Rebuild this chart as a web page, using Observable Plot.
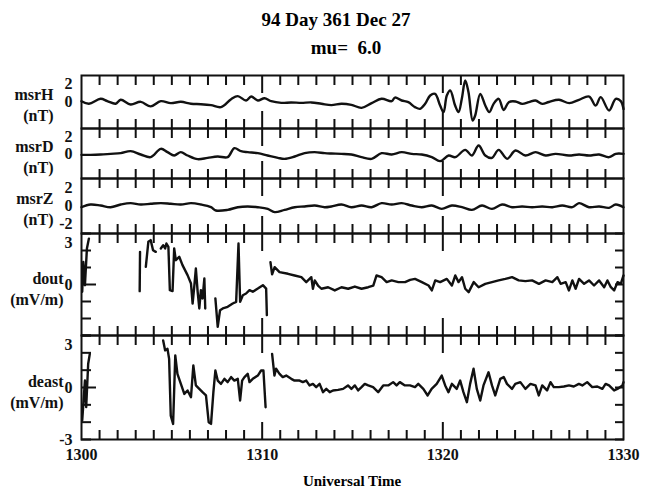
<!DOCTYPE html>
<html>
<head>
<meta charset="utf-8">
<script src="https://cdn.jsdelivr.net/npm/d3@7"></script>
<script src="https://cdn.jsdelivr.net/npm/@observablehq/plot@0.6"></script>
<style>
  html, body { margin: 0; padding: 0; background: #fff; }
  #wrap { position: relative; width: 656px; height: 494px; font-family: "Liberation Serif", "Times New Roman", serif; font-weight: bold; color: #000; overflow: hidden; }
  .txt { position: absolute; white-space: nowrap; line-height: 1; transform: translateX(-50%); }
  .panel { position: absolute; left: 0; }
</style>
</head>
<body>
<div id="wrap">
  <div class="txt" style="left:336px; top:10px; font-size:19px;">94 Day 361 Dec 27</div>
  <div class="txt" style="left:346px; top:38px; font-size:19px;">mu=&nbsp; 6.0</div>
  <div class="txt" style="left:352px; top:474px; font-size:15px;">Universal Time</div>
</div>
<script>
// ---------- axis ticks / labels ----------
const xTickValues = [0, 10, 20, 30];               // minutes after 13:00
const xTickLabels = ["1300", "1310", "1320", "1330"];
const majorMinutes = [10, 20];
const minorMinutes = d3.range(1, 30).filter(m => m % 10 !== 0);

const panelNames = ["msrH", "msrD", "msrZ", "dout", "deast"];
const panelUnits = ["(nT)", "(nT)", "(nT)", "(mV/m)", "(mV/m)"];

// ---------- msrH (nT) ----------
const hT = [0,0.41,1.06,1.43,1.89,2.17,2.72,3.28,3.83,4.39,4.94,5.5,6.06,6.61,7.17,7.72,8.28,8.65,9.11,9.39,9.76,10.13,10.5,11.06,11.6,12.17,12.72,13.28,13.83,14.39,14.94,15.5,16.06,16.61,17.17,17.35,17.72,18.09,18.46,18.74,19.02,19.3,19.57,19.85,20.04,20.22,20.41,20.68,20.87,21.05,21.24,21.42,21.65,21.79,22.07,22.35,22.57,22.81,23.09,23.37,23.65,24.02,24.39,24.76,25.13,25.5,25.87,26.43,27.0,27.54,28.1,28.46,28.74,29.2,29.57,29.85,30];
const hV = [0.09,-0.2,0.36,0.1,-0.2,0.25,-0.28,0.02,-0.5,0.1,-0.13,0.02,-0.2,-0.25,-0.36,-0.58,0.32,0.66,0.17,0.62,0.17,0.43,0.09,-0.1,-0.05,-0.1,-0.05,-0.2,-0.35,-0.2,-0.32,-0.66,-0.13,0.36,0.09,0.5,0.17,-0.02,-0.58,-0.77,-0.21,0.74,0.92,-0.4,-1.15,0.74,1.3,-0.4,-1.15,0.36,2.43,1.11,-2.1,-1.53,0.92,-0.4,-1.15,-0.21,0.36,-0.9,-0.02,0.06,-0.21,-0.02,0.17,-0.21,0,0.25,-0.13,0.25,0.62,-0.4,0.55,-0.96,0.36,0.1,-0.8];

// ---------- msrD (nT) ----------
const dT = [0,0.5,1.06,1.61,2.17,2.72,3.28,3.83,4.39,4.76,5.13,5.5,5.87,6.43,6.98,7.54,8.09,8.46,8.83,9.2,9.76,10.3,10.87,11.24,11.8,12.35,12.9,13.46,13.83,14.39,14.94,15.5,16.06,16.61,17.17,17.72,18.28,18.83,19.39,19.85,20.32,20.69,21.24,21.61,21.98,22.35,22.72,23.09,23.56,24.02,24.57,25.13,25.69,26.24,26.98,27.54,28.09,28.65,29.2,29.57,30];
const dV = [-0.16,-0.16,-0.12,-0.04,0.04,0.28,-0.12,-0.44,0.56,0.16,-0.24,0.16,-0.24,-0.68,-0.52,-0.36,-0.44,0.64,0.28,0.16,0.04,-0.24,-0.52,-0.64,-0.36,0.04,0.16,0.04,0.0,-0.04,-0.12,-0.44,-0.64,0.04,-0.12,0.16,-0.04,-0.12,-0.44,-0.92,-0.24,-0.44,0.44,-0.24,0.96,-0.24,-0.52,0.44,-0.64,0.36,-0.24,0.16,-0.24,-0.04,-0.24,-0.12,-0.24,-0.12,-0.44,-0.04,-0.04];

// ---------- msrZ (nT) ----------
const zT = [0,0.5,1.06,1.61,2.17,2.72,3.28,3.83,4.39,4.94,5.5,6.06,6.61,7.17,7.44,8.09,8.65,9.2,9.76,10.31,10.69,11.24,11.8,12.35,12.91,13.46,13.83,14.39,14.94,15.5,16.06,16.61,17.17,17.72,18.28,18.83,19.39,19.94,20.5,21.06,21.61,22.17,22.72,23.28,23.83,24.39,24.94,25.5,26.06,26.61,27.17,27.54,28.09,28.65,29.2,29.57,30];
const zV = [-0.13,0.16,0.05,-0.13,0.16,0.31,0.16,0.24,0.31,0.24,0.16,0.31,0.16,-0.13,-0.49,-0.42,-0.13,-0.05,-0.13,-0.31,-0.67,-0.42,-0.13,-0.05,0.05,-0.13,-0.05,0.16,-0.13,0.05,-0.13,0.31,0.16,0.31,0.05,-0.13,0.05,-0.31,0.05,-0.13,-0.42,0.05,-0.31,0.16,-0.13,-0.05,-0.13,-0.05,-0.13,0.05,-0.13,0.31,-0.13,-0.05,-0.2,0.16,-0.13];

// ---------- dout (mV/m) ; null = data gap ----------
const doutT = [0.04,0.1,0.19,0.3,0.41, 1.8, 3.22,3.24, 3.4, 3.56,3.7,3.83,3.96,4.11, 4.25, 4.39,4.52,4.63,4.7,4.81,4.89,5.04,5.13,5.22,5.41,5.59,5.87,6.06,6.15,6.24,6.33,6.43,6.52,6.61,6.7,6.8,6.85, 7.1, 7.41,7.54,7.67,7.82,8.09,8.37,8.56,8.69,8.78,8.93,9.11,9.3,9.48,9.76,10.04,10.22,10.26, 10.35, 10.46,10.55,10.69,10.96,11.43,11.8,12.17,12.44,12.72,12.81,12.91,13.09,13.28,13.65,14.02,14.39,14.76,15.13,15.5,15.87,16.15,16.33,16.61,16.89,17.17,17.54,17.91,18.19,18.46,18.84,19.21,19.39,19.58,19.85,20.22,20.5,20.69,20.87,21.06,21.24,21.43,21.71,21.98,22.35,22.72,23.09,23.46,23.83,24.2,24.57,24.94,25.32,25.69,26.06,26.34,26.52,26.8,26.98,27.17,27.35,27.54,27.82,28.09,28.37,28.65,28.93,29.11,29.3,29.48,29.67,29.85,30];
const doutV = [-0.43,1.33,-0.04,2.12,2.7, null, -0.39,1.92, null, 1.04,2.51,2.61,2.02,1.92, null, 2.12,2.31,2.12,2.41,2.22,-0.33,-0.39,2.12,1.43,1.63,1.14,0.55,0.06,-1.12,-0.14,0.94,-0.43,-1.41,-0.33,-0.82,0.35,-1.41, null, -0.82,-2.49,-1.51,-1.41,-1.31,-1.12,-1.02,2.41,-1.02,-0.63,-0.53,-0.33,-0.43,-0.24,-0.04,-0.24,-1.8, null, 1.31,0.6,1.02,0.73,0.63,0.53,0.43,0.14,0.43,-0.25,0.24,-0.06,-0.25,-0.16,-0.35,-0.16,-0.25,-0.12,-0.25,-0.16,-0.06,0.53,0.43,0.14,0.24,0.14,0.14,0.27,0.33,0.14,-0.06,-0.35,0.24,0.14,0.33,-0.06,0.53,0.14,0.43,-0.25,-0.45,0.14,-0.16,0.04,0.14,0.24,0.33,0.43,0.24,0.2,0.24,0.04,0.24,0.14,0.43,0.04,0.14,-0.35,0.24,-0.25,0.33,0.04,0.24,-0.06,0.24,-0.16,0.24,-0.16,-0.35,0.14,0.04,0.53];

// ---------- deast (mV/m) ; null = data gap ----------
const deastT = [0.04,0.19,0.26,0.37,0.46, 2.5, 4.52,4.63,4.76,4.85,4.94,5.07,5.19,5.31,5.5,5.69,5.87,6.06,6.19,6.33,6.52,6.7,6.89,7.04,7.17,7.3,7.41,7.54,7.72,7.91,8.09,8.28,8.46,8.65,8.78,8.89,9.02,9.2,9.3,9.48,9.76,9.94,10.07,10.19, 10.4, 10.55,10.68,10.77,10.96,11.14,11.33,11.61,11.79,12.07,12.25,12.44,12.62,12.81,12.99,13.18,13.37,13.55,13.74,13.92,14.2,14.48,14.75,14.94,15.13,15.31,15.5,15.68,15.87,16.14,16.42,16.7,16.98,17.25,17.44,17.62,17.9,18.18,18.46,18.64,18.92,19.16,19.38,19.66,19.94,20.13,20.31,20.5,20.77,20.96,21.14,21.33,21.51,21.7,21.88,22.07,22.25,22.53,22.72,22.9,23.18,23.37,23.55,23.83,24.01,24.29,24.57,24.85,25.13,25.31,25.5,25.77,25.96,26.14,26.42,26.7,26.98,27.25,27.53,27.72,27.99,28.27,28.55,28.83,29.01,29.2,29.48,29.66,29.94,30];
const deastV = [-1.9,0.4,-1.13,1.37,1.94, null, 2.71,2.14,2.23,1.65,-1.62,-2.1,1.85,0.79,0.21,-0.37,-0.17,-0.56,1.27,0.12,-0.08,-0.27,-0.46,-2.0,-2.1,-0.27,0.98,0.4,0.21,0.5,0.31,0.6,0.4,0.5,-0.75,0.4,0.6,0.79,0.31,0.5,0.69,0.98,0.98,-1.14, null, 1.94,0.69,1.08,0.79,0.6,0.69,0.5,0.4,0.4,0.31,0.4,0.12,0.21,0.02,0.21,-0.27,-0.08,-0.27,-0.17,-0.14,-0.08,0.12,-0.08,0.12,-0.17,0.02,0.21,0.12,0.02,-0.27,0.12,0.12,0.31,0.12,0.31,0.12,0.12,0.02,0.21,-0.08,-0.46,-0.08,0.21,0.69,0.12,-0.27,0.21,-0.08,0.4,-0.27,-0.85,0.21,1.08,-0.08,-0.75,0.12,0.88,0.12,-0.46,0.5,0.6,0.21,-0.08,0.21,0.31,-0.08,0.21,0.12,-0.46,0.12,-0.17,0.31,0.02,0.02,0.06,0.12,0.06,0.21,0.12,0.31,0.02,0.06,-0.08,0.21,0.12,-0.17,-0.08,0.12,0.31];

// ---------- y tick labels ----------
const yLabelsB = [2, 0];
const yLabelsZ = [2, 0, -2];
const yLabelsEtop = [3];
const yLabelsEout = [0];
const yLabelsEeast = [0, -3];
const eSideTicks = [-3, -2, -1, 1, 2, 3];

// ---------- layout ----------
const panels = [
  {t: hT, v: hV, top: 75, height: 53, yl: yLabelsB, ytop: [], labelDx: -28, e: false},
  {t: dT, v: dV, top: 128, height: 50, yl: yLabelsB, ytop: [], labelDx: -28, e: false},
  {t: zT, v: zV, top: 178, height: 55, yl: yLabelsZ, ytop: [], labelDx: -28, e: false},
  {t: doutT, v: doutV, top: 233, height: 102, yl: yLabelsEout, ytop: yLabelsEtop, labelDx: -18, e: true},
  {t: deastT, v: deastV, top: 335, height: 104, yl: yLabelsEeast, ytop: yLabelsEtop, labelDx: -18, e: true}
];

const ink = "#111";
const wrap = document.getElementById("wrap");
const fmt = d => String(d);

panels.forEach((p, idx) => {
  const last = idx === panels.length - 1;
  const rows = p.t.map((t, i) => ({t, v: p.v[i]}));
  const marks = [
    Plot.line(rows, {x: "t", y: "v", stroke: ink, strokeWidth: 2.4, strokeLinejoin: "round", strokeLinecap: "round", curve: p.e ? "linear" : "catmull-rom"}),
    Plot.frame({stroke: ink, strokeWidth: 2}),
    // inward ticks, top edge
    Plot.axisX(minorMinutes, {anchor: "top", tickSize: 9, dy: 9, tickFormat: () => "", label: null, stroke: ink, strokeWidth: 2}),
    Plot.axisX(majorMinutes, {anchor: "top", tickSize: 17, dy: 17, tickFormat: () => "", label: null, stroke: ink, strokeWidth: 2}),
    // inward ticks, bottom edge
    Plot.axisX(minorMinutes, {anchor: "bottom", tickSize: 9, dy: -9, tickFormat: () => "", label: null, stroke: ink, strokeWidth: 2}),
    Plot.axisX(majorMinutes, {anchor: "bottom", tickSize: 17, dy: -17, tickFormat: () => "", label: null, stroke: ink, strokeWidth: 2}),
    // y tick labels
    Plot.axisY(p.yl, {anchor: "left", tickSize: 0, tickPadding: 9, tickFormat: fmt, label: null, fill: ink}),
    // panel label
    Plot.text([panelNames[idx] + "\n" + panelUnits[idx]], {frameAnchor: "left", textAnchor: "end", dx: p.labelDx, dy: p.e ? 3 : 2, lineHeight: 1.3, fill: ink, fontSize: 16})
  ];
  if (p.ytop.length) {
    marks.push(Plot.axisY(p.ytop, {anchor: "left", tickSize: 0, tickPadding: 9, dy: 9, tickFormat: fmt, label: null, fill: ink}));
  }
  if (p.e) {
    marks.push(
      Plot.axisY(eSideTicks, {anchor: "left", tickSize: 10, dx: 10, tickFormat: () => "", label: null, stroke: ink, strokeWidth: 2}),
      Plot.axisY([0], {anchor: "left", tickSize: 15, dx: 15, tickFormat: () => "", label: null, stroke: ink, strokeWidth: 2}),
      Plot.axisY(eSideTicks.concat([0]), {anchor: "right", tickSize: 9, dx: -9, tickFormat: () => "", label: null, stroke: ink, strokeWidth: 2})
    );
  }
  if (last) {
    marks.push(Plot.axisX(xTickValues, {anchor: "bottom", tickSize: 0, tickPadding: 9, tickFormat: (d) => xTickLabels[xTickValues.indexOf(d)], label: null, fill: ink}));
  }
  const chart = Plot.plot({
    width: 656,
    height: p.height + (last ? 30 : 0),
    marginLeft: 81,
    marginRight: 33,
    marginTop: 0,
    marginBottom: last ? 30 : 0,
    x: {domain: [0, 30]},
    y: {domain: [-3, 3]},
    style: {background: "transparent", overflow: "visible", fontFamily: "Liberation Serif, Times New Roman, serif", fontWeight: "bold", fontSize: "16px", color: ink},
    marks
  });
  const holder = document.createElement("div");
  holder.className = "panel";
  holder.style.top = p.top + "px";
  holder.appendChild(chart);
  wrap.appendChild(holder);
});
</script>
</body>
</html>
